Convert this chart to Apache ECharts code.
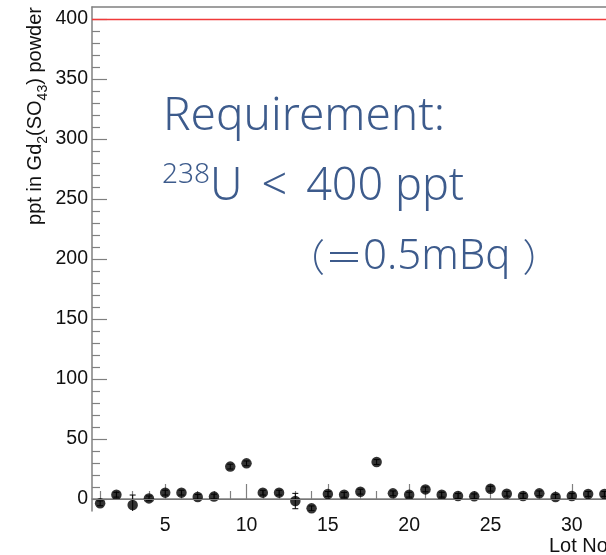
<!DOCTYPE html>
<html><head><meta charset="utf-8">
<script src="https://cdn.jsdelivr.net/npm/echarts@6/dist/echarts.min.js"></script>
<style>html,body{margin:0;padding:0;background:#fff}#c{width:606px;height:555px}</style>
</head><body><div id="c"></div>
<script>
const lots = [1,2,3,4,5,6,7,8,9,10,11,12,13,14,15,16,17,18,19,20,21,22,23,24,25,26,27,28,29,30,31,32];
const ppt = [-3.6,3.6,-5,0.5,5.3,5.3,1.7,2,27,29.7,5.3,5.3,-1.7,-7.8,4.2,3.5,6.1,30.8,4.7,3.6,8,3.6,2.5,2.2,8.6,4.4,2.5,4.7,1.7,2.5,4.2,4.2];
const pptErr = [2,2,8.3,2,2,2,2,2,2,2,2,2,6.4,2,2,2,2,2,2,2,2,2,2,2,2,2,2,2,2,2,2,2];
const yMajorTicks = [0,50,100,150,200,250,300,350,400];
const yMinorTicks = [10,20,30,40,60,70,80,90,110,120,130,140,160,170,180,190,210,220,230,240,260,270,280,290,310,320,330,340,360,370,380,390];
const xMajorTicks = [5,10,15,20,25,30];
const xMinorTicks = [1,2,3,4,6,7,8,9,11,12,13,14,16,17,18,19,21,22,23,24,26,27,28,29,31,32];
const requirementLimit = 400;
const zeroLine = 0;

const axisColor = '#808080';
const labelFont = 'Liberation Sans, Arial, Helvetica, sans-serif';
const annColor = '#3d5b8c';
const annFont = '"Noto Sans", "Open Sans", sans-serif';
const cjkFont = '"Noto Sans CJK JP", "Noto Sans", sans-serif';

const chart = echarts.init(document.getElementById('c'), null, {renderer:'canvas'});
const xCommon = {type:'value', min:0.5, max:32.1, splitLine:{show:false}};
const yCommon = {type:'value', min:-10, max:410, position:'left', splitLine:{show:false}};

chart.setOption({
  animation:false,
  backgroundColor:'#fff',
  grid:{left:92, top:7, right:0, bottom:44, show:false, containLabel:false},
  xAxis:[
    Object.assign({}, xCommon, {
      position:'bottom',
      axisLine:{show:true, lineStyle:{color:axisColor, width:1.5}},
      axisTick:{show:true, inside:true, length:15, customValues:xMajorTicks, lineStyle:{color:axisColor, width:1.2}},
      axisLabel:{show:true, customValues:xMajorTicks, fontSize:19.5, fontFamily:labelFont, color:'#111', margin:5}
    }),
    Object.assign({}, xCommon, {
      position:'bottom',
      axisLine:{show:false},
      axisTick:{show:true, inside:true, length:8, customValues:xMinorTicks, lineStyle:{color:axisColor, width:1.2}},
      axisLabel:{show:false}
    }),
    Object.assign({}, xCommon, {
      position:'top',
      axisLine:{show:true, lineStyle:{color:axisColor, width:1.5}},
      axisTick:{show:false},
      axisLabel:{show:false}
    })
  ],
  yAxis:[
    Object.assign({}, yCommon, {
      axisLine:{show:true, lineStyle:{color:axisColor, width:1.5}},
      axisTick:{show:true, inside:true, length:15, customValues:yMajorTicks, lineStyle:{color:axisColor, width:1.2}},
      axisLabel:{show:true, customValues:yMajorTicks, fontSize:19.5, fontFamily:labelFont, color:'#111', margin:4}
    }),
    Object.assign({}, yCommon, {
      axisLine:{show:false},
      axisTick:{show:true, inside:true, length:8, customValues:yMinorTicks, lineStyle:{color:axisColor, width:1.2}},
      axisLabel:{show:false}
    })
  ],
  series:[
    {
      type:'custom', xAxisIndex:0, yAxisIndex:0, clip:true, z:3,
      data: lots.map((x,i)=>[x, ppt[i], pptErr[i]]),
      renderItem:function(params, api){
        const x = api.value(0), y = api.value(1), e = api.value(2);
        const hi = api.coord([x, y+e]), lo = api.coord([x, y-e]);
        const c = 3;
        const st = {stroke:'#000', lineWidth:1};
        return {type:'group', children:[
          {type:'line', shape:{x1:hi[0], y1:hi[1], x2:lo[0], y2:lo[1]}, style:st},
          {type:'line', shape:{x1:hi[0]-c, y1:hi[1], x2:hi[0]+c, y2:hi[1]}, style:st},
          {type:'line', shape:{x1:lo[0]-c, y1:lo[1], x2:lo[0]+c, y2:lo[1]}, style:st}
        ]};
      }
    },
    {
      type:'scatter', xAxisIndex:0, yAxisIndex:0, clip:false, z:4,
      symbol:'circle', symbolSize:10.5,
      itemStyle:{color:'#000'},
      data: lots.map((x,i)=>[x, ppt[i]]),
      markLine:{
        silent:true, symbol:'none', label:{show:false}, animation:false,
        data:[
          {yAxis:zeroLine, lineStyle:{color:'#777', width:1.2, type:'solid'}},
          {yAxis:requirementLimit, lineStyle:{color:'#f03a3a', width:1.3, type:'solid'}}
        ]
      }
    }
  ],
  graphic:[
    {type:'text', x:163, y:117, style:{text:'Requirement:', font:'300 46px '+annFont, fill:annColor, align:'left', verticalAlign:'middle'}},
    {type:'text', x:162, y:187, style:{
      text:'{sup|238}{m|U}{sp|<}{m|400 ppt}', fill:annColor, align:'left', verticalAlign:'middle',
      rich:{
        sup:{fontSize:28, fontFamily:annFont, fontWeight:300, fill:annColor, verticalAlign:'top', lineHeight:52},
        m:{fontSize:45, fontFamily:annFont, fontWeight:300, fill:annColor, lineHeight:52},
        sp:{fontSize:45, fontFamily:annFont, fontWeight:300, fill:annColor, lineHeight:52, padding:[0,19,0,19]}
      }}},
    {type:'text', x:287, y:257, style:{
      text:'{c|（＝}{t|0.5mBq}{cp|）}', fill:annColor, align:'left', verticalAlign:'middle',
      rich:{
        c:{fontSize:38, fontFamily:cjkFont, fontWeight:300, fill:annColor, lineHeight:46},
        cp:{fontSize:38, fontFamily:cjkFont, fontWeight:300, fill:annColor, lineHeight:46, padding:[0,0,0,12]},
        t:{fontSize:42, fontFamily:annFont, fontWeight:300, fill:annColor, lineHeight:46}
      }}},
    {type:'text', x:549, y:546, style:{text:'Lot No.', font:'20px '+labelFont, fill:'#111', align:'left', verticalAlign:'middle'}},
    {type:'text', x:35, y:7, rotation:Math.PI/2, style:{
      text:'ppt in Gd{s|2}(SO{s|4}{s|3}) powder', fill:'#111', align:'right', verticalAlign:'middle',
      font:'20px '+labelFont,
      rich:{
        s:{fontSize:14, fontFamily:labelFont, fill:'#111', verticalAlign:'bottom', lineHeight:30, padding:[12,0,0,0]}
      }}}
  ]
});
</script>
</body></html>
